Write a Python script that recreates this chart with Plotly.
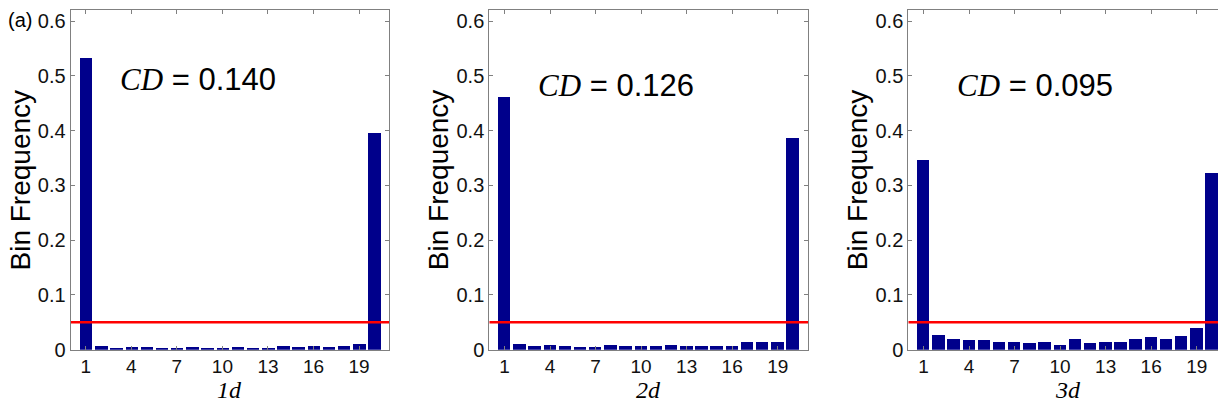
import plotly.graph_objects as go

# ---- data ----
bins = list(range(1, 21))
freq_1d = [0.533, 0.006, 0.003, 0.004, 0.004, 0.001, 0.001, 0.004, 0.001, 0.003,
           0.004, 0.001, 0.001, 0.0065, 0.005, 0.006, 0.005, 0.006, 0.0095, 0.395]
freq_2d = [0.462, 0.011, 0.006, 0.009, 0.007, 0.004, 0.005, 0.009, 0.006, 0.006,
           0.006, 0.009, 0.006, 0.007, 0.006, 0.006, 0.014, 0.014, 0.014, 0.387]
freq_3d = [0.346, 0.027, 0.0195, 0.018, 0.018, 0.014, 0.014, 0.012, 0.014, 0.009,
           0.019, 0.0125, 0.014, 0.014, 0.019, 0.023, 0.0195, 0.025, 0.040, 0.323]
panel_series = [freq_1d, freq_2d, freq_3d]
panel_labels = ["1d", "2d", "3d"]
cd_values = ["0.140", "0.126", "0.095"]
uniform_x = [0, 21]
uniform_level = [0.05, 0.05]
x_ticks = [1, 4, 7, 10, 13, 16, 19]
y_ticks = [0, 0.1, 0.2, 0.3, 0.4, 0.5, 0.6]
y_tick_text = ["0", "0.1", "0.2", "0.3", "0.4", "0.5", "0.6"]

# ---- layout geometry (pixels) ----
W, H = 1218, 410
left_px = [70.6, 489.3, 908.3]
right_px = [389.0, 808.3, 1218.0]
unit_px = 15.18
top_px, bottom_px = 10.4, 359.3

BAR = "#00008B"
SANS = "Liberation Sans"
SERIF = "Liberation Serif"
AXC = "#808080"

fig = go.Figure()
annotations = []

for i, (vals, lab, cd) in enumerate(zip(panel_series, panel_labels, cd_values)):
    n = i + 1
    xa = "x" if n == 1 else f"x{n}"
    ya = "y" if n == 1 else f"y{n}"
    fig.add_trace(go.Bar(x=bins, y=vals, width=0.82, marker=dict(color=BAR, line=dict(width=0)),
                         xaxis=xa, yaxis=ya, showlegend=False))
    fig.add_trace(go.Scatter(x=uniform_x, y=uniform_level, mode="lines",
                             line=dict(color="#FF0000", width=2.6),
                             xaxis=xa, yaxis=ya, showlegend=False))
    xmax = (right_px[i] - left_px[i]) / unit_px
    key = "" if n == 1 else str(n)
    fig.layout["xaxis" + key] = dict(
        domain=[left_px[i] / W, right_px[i] / W], range=[0, xmax], anchor=ya,
        tickmode="array", tickvals=x_ticks, ticks="inside", ticklen=4, tickcolor=AXC,
        showline=True, linecolor=AXC, linewidth=1, mirror="ticks", showgrid=False, zeroline=False,
        tickfont=dict(family=SANS, size=19, color="#111111"))
    fig.layout["yaxis" + key] = dict(
        domain=[(H - bottom_px) / H, (H - top_px) / H], range=[0, 0.62], anchor=xa,
        tickmode="array", tickvals=y_ticks, ticktext=y_tick_text, ticks="inside", ticklen=4,
        tickcolor=AXC, showline=True, linecolor=AXC, linewidth=1,
        mirror="ticks" if n < 3 else False, showgrid=False, zeroline=False,
        tickfont=dict(family=SANS, size=20, color="#111111"))
    # CD annotation
    annotations.append(dict(
        x=3.1, y=0.493 if n == 1 else 0.482, xref=xa, yref=ya, xanchor="left", yanchor="middle",
        text=f'<span style="font-family:{SERIF}"><i>CD</i></span> = {cd}',
        showarrow=False, font=dict(family=SANS, size=31, color="#000000")))
    # x title
    annotations.append(dict(
        x=(left_px[i] + (left_px[i] + 21 * unit_px)) / 2 / W, y=(H - 415) / H,
        xref="paper", yref="paper", xanchor="center", yanchor="bottom", borderpad=0,
        text=f"<i>{lab}</i>", showarrow=False,
        font=dict(family=SERIF, size=24, color="#000000")))
    # y title
    annotations.append(dict(
        x=(left_px[i] - 50) / W, y=(H - (top_px + bottom_px) / 2) / H,
        xref="paper", yref="paper", xanchor="center", yanchor="middle", textangle=-90,
        text="Bin Frequency", showarrow=False,
        font=dict(family=SANS, size=28, color="#000000")))

annotations.append(dict(x=6 / W, y=(H - 21) / H, xref="paper", yref="paper",
                        xanchor="left", yanchor="middle", text="(a)", showarrow=False,
                        font=dict(family=SANS, size=20, color="#000000")))

fig.update_layout(width=W, height=H, margin=dict(l=0, r=0, t=0, b=0), autosize=False,
                  paper_bgcolor="white", plot_bgcolor="white",
                  annotations=annotations, bargap=0)

post = ("document.documentElement.style.margin='0';document.body.style.margin='0';"
        "document.documentElement.style.overflow='hidden';document.body.style.overflow='hidden';"
        "var gd=document.getElementById('{plot_id}');gd.style.position='fixed';"
        "gd.style.left='0px';gd.style.top='0px';")
fig.write_html("out.html", config={"displayModeBar": False}, post_script=post)
